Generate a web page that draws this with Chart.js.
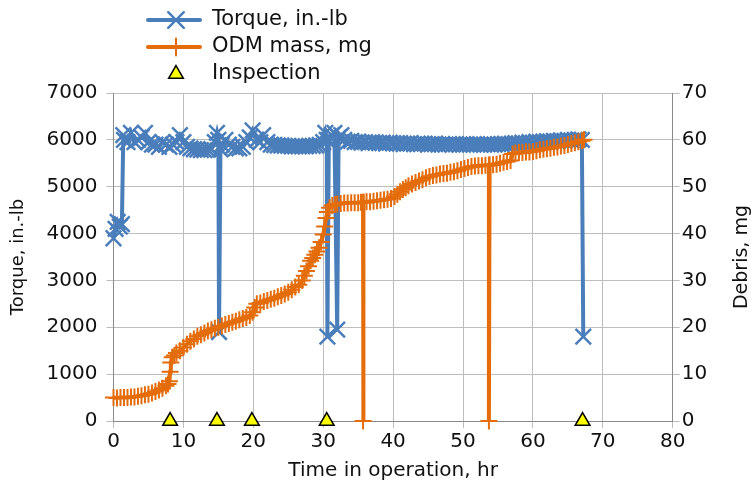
<!DOCTYPE html>
<html>
<head>
<meta charset="utf-8">
<script src="https://cdn.jsdelivr.net/npm/chart.js@4.4.1/dist/chart.umd.min.js"></script>
<style>
  html, body { margin: 0; padding: 0; background: #fff; }
  #wrap { width: 754px; height: 491px; }
</style>
</head>
<body>
<div id="wrap"><canvas id="torqueChart" width="754" height="491"></canvas></div>
<script>
// ===== 토크 / 마모분 질량 그래프 =====

// 토크 (in.-lb) - 시간(hr)
const torqueHours = [
  0.0, 0.3, 0.6, 0.9, 1.2, 1.4, 1.5, 2.0, 2.5, 3.0, 3.5, 4.0, 4.5, 5.0, 5.5, 6.0, 6.5, 7.0,
  7.5, 8.0, 8.5, 9.0, 9.5, 10.0, 10.5, 11.0, 11.5, 12.0, 12.5, 13.0, 13.5, 14.0, 14.5, 14.8,
  15.0, 15.1, 15.3, 15.5, 16.0, 16.5, 17.0, 17.5, 18.0, 18.5, 19.0, 19.5, 19.9, 20.5, 21.0,
  21.4, 22.0, 22.5, 23.0, 23.5, 24.0, 24.5, 25.0, 25.5, 26.0, 26.5, 27.0, 27.5, 28.0, 28.5,
  29.0, 29.5, 30.0, 30.3, 30.5, 30.6, 30.8, 31.2, 31.6, 32.0, 32.2, 32.6, 33.0, 33.5, 34.0,
  34.5, 35.0, 35.5, 36.0, 36.5, 37.0, 37.5, 38.0, 38.5, 39.0, 39.5, 40.0, 40.5, 41.0, 41.5,
  42.0, 42.5, 43.0, 43.5, 44.0, 44.5, 45.0, 45.5, 46.0, 46.5, 47.0, 47.5, 48.0, 48.5, 49.0,
  49.5, 50.0, 50.5, 51.0, 51.5, 52.0, 52.5, 53.0, 53.5, 54.0, 54.5, 55.0, 55.5, 56.0, 56.5,
  57.0, 57.5, 58.0, 58.5, 59.0, 59.5, 60.0, 60.5, 61.0, 61.5, 62.0, 62.5, 63.0, 63.5, 64.0,
  64.5, 65.0, 65.5, 66.0, 66.5, 67.0, 67.2
];
const torqueValues = [
  3900, 4100, 4250, 4150, 4200, 6100, 6000, 5950, 6150, 5950, 6000, 6050, 6150, 5950, 5900, 5900, 5850, 5950,
  5900, 5850, 5900, 5950, 6100, 5950, 5850, 5820, 5800, 5790, 5780, 5780, 5790, 5800, 5950, 6150,
  6000, 1900, 5800, 5900, 6000, 5900, 5850, 5820, 5820, 5850, 5950, 6050, 6200, 6000, 5950,
  6100, 5950, 5900, 5890, 5880, 5880, 5870, 5870, 5860, 5860, 5860, 5860, 5860, 5870, 5870,
  5880, 5890, 5950, 6150, 6000, 1800, 6000, 6100, 6150, 1950, 6050, 6100, 6000, 5960, 5980,
  5950, 5960, 5940, 5950, 5930, 5950, 5940, 5930, 5940, 5920, 5940, 5930, 5920, 5930, 5910,
  5920, 5930, 5910, 5920, 5910, 5920, 5900, 5910, 5920, 5900, 5910, 5900, 5910, 5900, 5910,
  5900, 5900, 5910, 5900, 5900, 5910, 5900, 5900, 5910, 5900, 5900, 5910, 5910, 5920, 5910,
  5920, 5930, 5920, 5940, 5930, 5950, 5940, 5960, 5950, 5960, 5970, 5960, 5980, 5970, 5990,
  5980, 6000, 5990, 6000, 6010, 6000, 1800
];

// ODM 마모분 질량 (mg) - 시간(hr)
const odmHours = [
  0.0, 0.5, 1.0, 1.5, 2.0, 2.5, 3.0, 3.5, 4.0, 4.5, 5.0, 5.5, 6.0, 6.5, 7.0, 7.5, 7.8, 8.0,
  8.1, 8.2, 8.4, 8.7, 9.0, 9.5, 10.0, 10.5, 11.0, 11.5, 12.0, 12.5, 13.0, 13.5, 14.0, 14.5,
  15.0, 15.5, 16.0, 16.5, 17.0, 17.5, 18.0, 18.5, 19.0, 19.5, 19.9, 20.2, 20.5, 21.0, 21.5,
  22.0, 22.5, 23.0, 23.5, 24.0, 24.5, 25.0, 25.5, 26.0, 26.5, 27.0, 27.3, 27.6, 27.9, 28.2,
  28.5, 28.8, 29.1, 29.4, 29.7, 30.0, 30.2, 30.4, 30.6, 30.9, 31.3, 31.7, 32.0, 32.5, 33.0,
  33.5, 34.0, 34.5, 35.0, 35.4, 35.7, 35.7, 35.8, 36.2, 36.7, 37.2, 37.7, 38.2, 38.7, 39.2,
  39.7, 40.2, 40.6, 41.0, 41.4, 41.8, 42.2, 42.7, 43.2, 43.7, 44.2, 44.7, 45.2, 45.7, 46.2,
  46.7, 47.2, 47.7, 48.2, 48.7, 49.2, 49.7, 50.2, 50.7, 51.2, 51.7, 52.2, 52.7, 53.2, 53.7,
  53.7, 53.8, 54.3, 54.8, 55.3, 55.8, 56.3, 56.8, 57.1, 57.5, 58.0, 58.5, 59.0, 59.5, 60.0,
  60.5, 61.0, 61.5, 62.0, 62.5, 63.0, 63.5, 64.0, 64.5, 65.0, 65.5, 66.0, 66.5, 67.0, 67.3
];
const odmValues = [
  5.0, 4.9, 5.0, 5.0, 5.0, 5.1, 5.1, 5.3, 5.4, 5.6, 5.7, 6.0, 6.3, 6.6, 7.0, 7.5, 7.9, 8.5,
  10.5, 12.5, 13.6, 14.0, 14.5, 15.0, 15.7, 16.4, 17.0, 17.5, 18.1, 18.4, 18.8, 19.2, 19.5, 19.8,
  20.0, 20.3, 20.6, 20.8, 21.1, 21.3, 21.6, 21.9, 22.1, 22.5, 23.2, 24.2, 25.0, 25.2, 25.5,
  25.7, 26.0, 26.2, 26.5, 26.8, 27.1, 27.5, 28.0, 28.6, 29.1, 30.0, 31.0, 32.0, 33.0, 34.2,
  34.8, 35.5, 36.2, 37.0, 38.2, 39.8, 41.5, 43.3, 44.6, 45.5, 46.0, 46.2, 46.3, 46.4, 46.5,
  46.5, 46.6, 46.6, 46.6, 46.7, 46.7, 0.0, 46.7, 46.8, 46.8, 46.9, 47.0, 47.1, 47.2, 47.3,
  47.5, 47.9, 48.4, 48.9, 49.4, 49.8, 50.2, 50.6, 50.9, 51.2, 51.5, 51.9, 52.2, 52.4, 52.5,
  52.7, 52.8, 52.9, 53.1, 53.2, 53.4, 53.7, 53.9, 54.1, 54.3, 54.4, 54.5, 54.5, 54.6, 54.6,
  0.0, 54.7, 54.7, 54.8, 55.0, 55.2, 55.4, 55.6, 57.0, 57.2, 57.3, 57.3, 57.4, 57.4, 57.5,
  57.7, 57.9, 58.0, 58.1, 58.2, 58.4, 58.5, 58.7, 58.8, 59.0, 59.2, 59.4, 59.6, 59.8, 60.0
];

// 점검 시점 (hr)
const inspectionHours = [8.1, 14.8, 19.8, 30.5, 67.1];
const inspectionValues = [0, 0, 0, 0, 0];

// 축 눈금
const xTicks = { min: 0, max: 80, step: 10 };
const torqueTicks = { min: 0, max: 7000, step: 1000 };
const debrisTicks = { min: 0, max: 70, step: 10 };

const BLUE = "#4a7ebb";
const ORANGE = "#e46c0a";
const GRID = "#bdbdbd";
const AXIS = "#8a8a8a";
const FONT = "'DejaVu Sans', sans-serif";
const TEXT = "#111";

const toPoints = (xs, ys) => xs.map((x, i) => ({ x, y: ys[i] }));

const datasets = [
  {
    label: "Inspection",
    data: toPoints(inspectionHours, inspectionValues),
    yAxisID: "y",
    showLine: false,
    pointStyle: "triangle",
    pointRadius: 8.5,
    pointBackgroundColor: "#ffff00",
    pointBorderColor: "#000",
    pointBorderWidth: 1.5,
    order: 0,
    clip: false,
  },
  {
    label: "ODM mass, mg",
    data: toPoints(odmHours, odmValues),
    yAxisID: "y1",
    showLine: true,
    borderColor: ORANGE,
    borderWidth: 4,
    pointStyle: "cross",
    pointRadius: 8.5,
    pointBorderColor: ORANGE,
    pointBorderWidth: 2,
    order: 1,
    clip: false,
  },
  {
    label: "Torque, in.-lb",
    data: toPoints(torqueHours, torqueValues),
    yAxisID: "y",
    showLine: true,
    borderColor: BLUE,
    borderWidth: 4,
    pointStyle: "crossRot",
    pointRadius: 11,
    pointBorderColor: BLUE,
    pointBorderWidth: 2.5,
    order: 2,
    clip: false,
  },
];

// 세로형 범례 직접 그리기
const legendItems = [
  { text: "Torque, in.-lb", y: 20, line: BLUE, style: "crossRot", radius: 11, fill: BLUE, border: BLUE, bw: 2.5 },
  { text: "ODM mass, mg", y: 47, line: ORANGE, style: "cross", radius: 8.5, fill: ORANGE, border: ORANGE, bw: 2 },
  { text: "Inspection", y: 74, line: null, style: "triangle", radius: 8.5, fill: "#ffff00", border: "#000", bw: 1.5 },
];

const stackedLegend = {
  id: "stackedLegend",
  afterDraw(chart) {
    const ctx = chart.ctx;
    ctx.save();
    legendItems.forEach((it) => {
      if (it.line) {
        ctx.strokeStyle = it.line;
        ctx.lineWidth = 4;
        ctx.lineCap = "round";
        ctx.beginPath();
        ctx.moveTo(148, it.y);
        ctx.lineTo(200, it.y);
        ctx.stroke();
      }
      ctx.fillStyle = it.fill;
      ctx.strokeStyle = it.border;
      ctx.lineWidth = it.bw;
      Chart.helpers.drawPoint(ctx, { pointStyle: it.style, radius: it.radius, borderWidth: it.bw, rotation: 0 }, 176, it.y);
      ctx.fillStyle = TEXT;
      ctx.font = "21px " + FONT;
      ctx.textBaseline = "middle";
      ctx.textAlign = "left";
      ctx.fillText(it.text, 212, it.y);
    });

    // 오른쪽 축 제목 (아래에서 위로 읽히도록)
    const area = chart.chartArea;
    ctx.translate(742, (area.top + area.bottom) / 2);
    ctx.rotate(-Math.PI / 2);
    ctx.font = "19px " + FONT;
    ctx.fillStyle = TEXT;
    ctx.textAlign = "center";
    ctx.textBaseline = "middle";
    ctx.fillText("Debris, mg", 0, 0);
    ctx.restore();
  },
};

const plainTick = (v) => String(v);

new Chart(document.getElementById("torqueChart"), {
  type: "scatter",
  data: { datasets },
  options: {
    responsive: false,
    animation: false,
    events: [],
    layout: { padding: { top: 93, left: 0, right: 0, bottom: 0 } },
    plugins: { legend: { display: false }, tooltip: { enabled: false } },
    scales: {
      x: {
        type: "linear",
        min: xTicks.min,
        max: xTicks.max,
        ticks: { stepSize: xTicks.step, color: TEXT, font: { family: FONT, size: 20 }, padding: 2, callback: plainTick },
        grid: { color: GRID, tickLength: 7 },
        border: { color: AXIS },
        title: {
          display: true,
          text: "Time in operation, hr",
          color: TEXT,
          font: { family: FONT, size: 20 },
          padding: { top: 3, bottom: 8 },
        },
      },
      y: {
        position: "left",
        min: torqueTicks.min,
        max: torqueTicks.max,
        ticks: { stepSize: torqueTicks.step, color: TEXT, font: { family: FONT, size: 20 }, padding: 9, callback: plainTick },
        grid: { color: GRID, tickLength: 7 },
        border: { color: AXIS },
        title: {
          display: true,
          text: "Torque, in.-lb",
          color: TEXT,
          font: { family: FONT, size: 18 },
          padding: { top: 8, bottom: 8 },
        },
      },
      y1: {
        position: "right",
        min: debrisTicks.min,
        max: debrisTicks.max,
        ticks: { stepSize: debrisTicks.step, color: TEXT, font: { family: FONT, size: 20 }, padding: 2, callback: plainTick },
        grid: { color: GRID, tickLength: 7, drawOnChartArea: false },
        border: { color: AXIS },
        title: {
          // 공간만 확보하고 글자는 플러그인에서 그림
          display: true,
          text: " ",
          font: { family: FONT, size: 19 },
          padding: { top: 0, bottom: 22 },
        },
      },
    },
  },
  plugins: [stackedLegend],
});
</script>
</body>
</html>
